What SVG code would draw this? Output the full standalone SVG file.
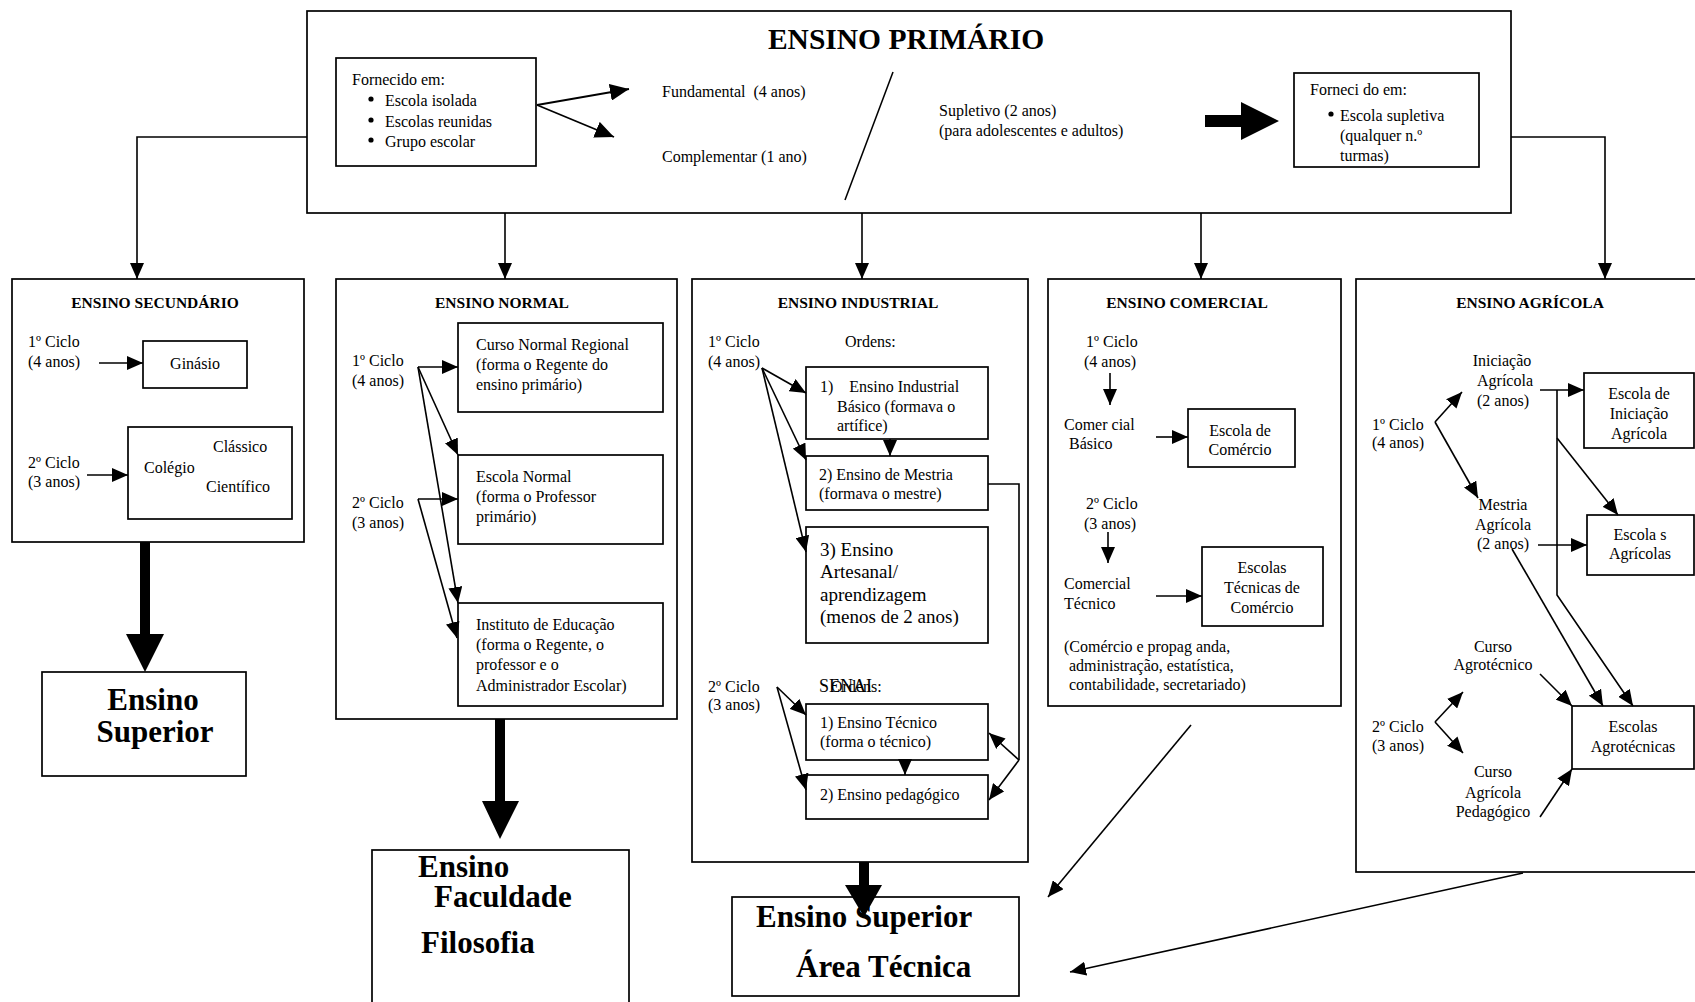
<svg xmlns="http://www.w3.org/2000/svg" width="1695" height="1002" viewBox="0 0 1695 1002">
<defs>
<marker id="a" markerWidth="16" markerHeight="14" refX="16" refY="7" orient="auto" markerUnits="userSpaceOnUse"><path d="M0,0 L16,7 L0,14 z" fill="#000"/></marker>
<marker id="a2" markerWidth="19" markerHeight="17" refX="19" refY="8.5" orient="auto" markerUnits="userSpaceOnUse"><path d="M0,0 L19,8.5 L0,17 z" fill="#000"/></marker>
<style>
.b{fill:#fff;stroke:#000;stroke-width:1.7}
text{font-family:"Liberation Serif","Times New Roman",serif;font-size:16px;fill:#000}
.h{font-weight:bold;font-size:15.5px;text-anchor:middle}
.big{font-weight:bold;font-size:31px}
.ttl{font-weight:bold;font-size:29.5px;text-anchor:middle}
.m19{font-size:19px}
.m18{font-size:18px}
.c{text-anchor:middle}
.l{fill:none;stroke:#000;stroke-width:1.6}
.la{fill:none;stroke:#000;stroke-width:1.6;marker-end:url(#a)}
.lb{fill:none;stroke:#000;stroke-width:1.8;marker-end:url(#a2)}
</style>
</defs>
<rect width="1695" height="1002" fill="#fff"/>

<g id="primario">
<rect class="b" x="307" y="11" width="1204" height="202" stroke-width="2"/>
<text x="906" y="49" class="ttl">ENSINO PRIMÁRIO</text>
<g id="fornecido1">
<rect class="b" x="336" y="58" width="200" height="108"/>
<text x="352" y="85">Fornecido em:</text>
<circle cx="371" cy="99" r="2.6"/><circle cx="371" cy="120" r="2.6"/><circle cx="371" cy="140" r="2.6"/>
<text x="385" y="106">Escola isolada</text>
<text x="385" y="127">Escolas reunidas</text>
<text x="385" y="147">Grupo escolar</text>
</g>
<text x="662" y="97" xml:space="preserve">Fundamental  (4 anos)</text>
<text x="662" y="162">Complementar (1 ano)</text>
<text x="939" y="116">Supletivo (2 anos)</text>
<text x="939" y="136">(para adolescentes e adultos)</text>
<g id="fornecido2">
<rect class="b" x="1294" y="73" width="185" height="94"/>
<text x="1310" y="95">Forneci do em:</text>
<circle cx="1331" cy="114" r="2.6"/>
<text x="1340" y="121">Escola supletiva</text>
<text x="1340" y="141">(qualquer n.º</text>
<text x="1340" y="161">turmas)</text>
</g>
</g>

<g id="secundario">
<rect class="b" x="12" y="279" width="292" height="263"/>
<text x="155" y="308" class="h">ENSINO SECUNDÁRIO</text>
<text x="28" y="347">1º Ciclo</text>
<text x="28" y="367">(4 anos)</text>
<rect class="b" x="143" y="341" width="104" height="47"/>
<text x="195" y="369" class="c">Ginásio</text>
<text x="28" y="468">2º Ciclo</text>
<text x="28" y="487">(3 anos)</text>
<rect class="b" x="128" y="427" width="164" height="92"/>
<text x="144" y="473">Colégio</text>
<text x="213" y="452">Clássico</text>
<text x="206" y="492">Científico</text>
</g>

<g id="superior1">
<rect class="b" x="42" y="672" width="204" height="104"/>
<text x="153" y="710" class="big c">Ensino</text>
<text x="155" y="742" class="big c">Superior</text>
</g>

<g id="normal">
<rect class="b" x="336" y="279" width="341" height="440"/>
<text x="502" y="308" class="h">ENSINO NORMAL</text>
<text x="352" y="366">1º Ciclo</text>
<text x="352" y="386">(4 anos)</text>
<text x="352" y="508">2º Ciclo</text>
<text x="352" y="528">(3 anos)</text>
<rect class="b" x="458" y="323" width="205" height="89"/>
<text x="476" y="350">Curso Normal Regional</text>
<text x="476" y="370">(forma o Regente do</text>
<text x="476" y="390">ensino primário)</text>
<rect class="b" x="458" y="455" width="205" height="89"/>
<text x="476" y="482">Escola Normal</text>
<text x="476" y="502">(forma o Professor</text>
<text x="476" y="522">primário)</text>
<rect class="b" x="458" y="603" width="205" height="103"/>
<text x="476" y="630">Instituto de Educação</text>
<text x="476" y="650">(forma o Regente, o</text>
<text x="476" y="670">professor e o</text>
<text x="476" y="691">Administrador Escolar)</text>
</g>

<g id="faculdade">
<rect class="b" x="372" y="850" width="257" height="170"/>
<text x="418" y="877" class="big">Ensino</text>
<text x="434" y="907" class="big">Faculdade</text>
<text x="421" y="953" class="big">Filosofia</text>
</g>

<g id="industrial">
<rect class="b" x="692" y="279" width="336" height="583"/>
<text x="858" y="308" class="h">ENSINO INDUSTRIAL</text>
<text x="708" y="347">1º Ciclo</text>
<text x="708" y="367">(4 anos)</text>
<text x="845" y="347">Ordens:</text>
<rect class="b" x="806" y="367" width="182" height="72"/>
<text x="820" y="392" xml:space="preserve">1)    Ensino Industrial</text>
<text x="837" y="412">Básico (formava o</text>
<text x="837" y="431">artífice)</text>
<rect class="b" x="806" y="456" width="182" height="54"/>
<text x="819" y="480">2) Ensino de Mestria</text>
<text x="819" y="499">(formava o mestre)</text>
<rect class="b" x="806" y="527" width="182" height="116"/>
<text x="820" y="556" class="m19">3) Ensino</text>
<text x="820" y="578" class="m19">Artesanal/</text>
<text x="820" y="601" class="m19">aprendizagem</text>
<text x="820" y="623" class="m19">(menos de 2 anos)</text>
<text x="708" y="692">2º Ciclo</text>
<text x="708" y="710">(3 anos)</text>
<text x="819" y="692" class="m18">SENAI</text>
<text x="831" y="692">Ordens:</text>
<rect class="b" x="806" y="704" width="182" height="56"/>
<text x="820" y="728">1) Ensino Técnico</text>
<text x="820" y="747">(forma o técnico)</text>
<rect class="b" x="806" y="775" width="182" height="44"/>
<text x="820" y="800">2) Ensino pedagógico</text>
</g>

<g id="tecnica">
<rect class="b" x="732" y="897" width="287" height="99"/>
<text x="756" y="927" class="big">Ensino Superior</text>
<text x="796" y="977" class="big">Área Técnica</text>
</g>

<g id="comercial">
<rect class="b" x="1048" y="279" width="293" height="427"/>
<text x="1187" y="308" class="h">ENSINO COMERCIAL</text>
<text x="1086" y="347">1º Ciclo</text>
<text x="1084" y="367">(4 anos)</text>
<text x="1064" y="430">Comer cial</text>
<text x="1069" y="449">Básico</text>
<rect class="b" x="1188" y="409" width="107" height="58"/>
<text x="1240" y="436" class="c">Escola de</text>
<text x="1240" y="455" class="c">Comércio</text>
<text x="1086" y="509">2º Ciclo</text>
<text x="1084" y="529">(3 anos)</text>
<text x="1064" y="589">Comercial</text>
<text x="1064" y="609">Técnico</text>
<rect class="b" x="1202" y="547" width="121" height="79"/>
<text x="1262" y="573" class="c">Escolas</text>
<text x="1262" y="593" class="c">Técnicas de</text>
<text x="1262" y="613" class="c">Comércio</text>
<text x="1064" y="652">(Comércio e propag anda,</text>
<text x="1069" y="671">administração, estatística,</text>
<text x="1069" y="690">contabilidade, secretariado)</text>
</g>

<g id="agricola">
<rect class="b" x="1356" y="279" width="360" height="593"/>
<text x="1530" y="308" class="h">ENSINO AGRÍCOLA</text>
<text x="1502" y="366" class="c">Iniciação</text>
<text x="1505" y="386" class="c">Agrícola</text>
<text x="1503" y="406" class="c">(2 anos)</text>
<text x="1372" y="430">1º Ciclo</text>
<text x="1372" y="448">(4 anos)</text>
<rect class="b" x="1584" y="373" width="110" height="75"/>
<text x="1639" y="399" class="c">Escola de</text>
<text x="1639" y="419" class="c">Iniciação</text>
<text x="1639" y="439" class="c">Agrícola</text>
<text x="1503" y="510" class="c">Mestria</text>
<text x="1503" y="530" class="c">Agrícola</text>
<text x="1503" y="549" class="c">(2 anos)</text>
<rect class="b" x="1587" y="515" width="107" height="60"/>
<text x="1640" y="540" class="c">Escola s</text>
<text x="1640" y="559" class="c">Agrícolas</text>
<text x="1493" y="652" class="c">Curso</text>
<text x="1493" y="670" class="c">Agrotécnico</text>
<text x="1372" y="732">2º Ciclo</text>
<text x="1372" y="751">(3 anos)</text>
<rect class="b" x="1572" y="706" width="122" height="63"/>
<text x="1633" y="732" class="c">Escolas</text>
<text x="1633" y="752" class="c">Agrotécnicas</text>
<text x="1493" y="777" class="c">Curso</text>
<text x="1493" y="798" class="c">Agrícola</text>
<text x="1493" y="817" class="c">Pedagógico</text>
</g>

<g id="connectors">
<path class="lb" d="M537,105 L629,89"/>
<path class="lb" d="M537,105 L614,137"/>
<path class="l" d="M893,72 L845,200"/>
<polygon points="1205,115 1241,115 1241,102 1279,121 1241,140 1241,127 1205,127"/>

<path class="la" d="M307,137 H137 V279"/>
<path class="la" d="M505,213 V279"/>
<path class="la" d="M862,213 V279"/>
<path class="la" d="M1201,213 V279"/>
<path class="la" d="M1511,137 H1605 V279"/>

<path class="la" d="M99,363 H143"/>
<path class="la" d="M87,475 H128"/>
<polygon points="140,542 150,542 150,634 164,634 145,672 126,634 140,634"/>

<path class="la" d="M418,367 H458"/>
<path class="la" d="M418,367 L458,455"/>
<path class="la" d="M418,367 L458,603"/>
<path class="la" d="M418,499 H458"/>
<path class="la" d="M418,499 L457,638"/>
<polygon points="495,719 505,719 505,801 519,801 500,839 482,801 495,801"/>

<path class="la" d="M762,368 L806,393"/>
<path class="la" d="M762,368 L806,460"/>
<path class="la" d="M762,368 L806,552"/>
<path class="la" d="M890,439 V456"/>
<path class="la" d="M777,687 L806,715"/>
<path class="la" d="M777,687 L806,790"/>
<path class="la" d="M905,760 V775"/>
<path class="l" d="M988,484 H1019 V760"/>
<path class="la" d="M1019,760 L989,733"/>
<path class="la" d="M1019,760 L989,800"/>
<polygon points="859,862 869,862 869,885 882,885 864,917 845,885 859,885"/>

<path class="la" d="M1110,373 V405"/>
<path class="la" d="M1156,437 H1188"/>
<path class="la" d="M1108,532 V563"/>
<path class="la" d="M1156,596 H1202"/>
<path class="la" d="M1191,725 L1048,897"/>

<path class="la" d="M1435,422 L1462,392"/>
<path class="la" d="M1435,422 L1478,498"/>
<path class="la" d="M1540,390 H1584"/>
<path class="la" d="M1557,390 V595 L1633,706"/>
<path class="la" d="M1557,438 L1618,515"/>
<path class="la" d="M1538,545 H1587"/>
<path class="la" d="M1512,549 L1603,706"/>
<path class="la" d="M1540,674 L1572,706"/>
<path class="la" d="M1435,722 L1463,692"/>
<path class="la" d="M1435,722 L1463,753"/>
<path class="la" d="M1540,817 L1572,769"/>
<path class="la" d="M1523,873 L1070,972"/>
</g>
</svg>
